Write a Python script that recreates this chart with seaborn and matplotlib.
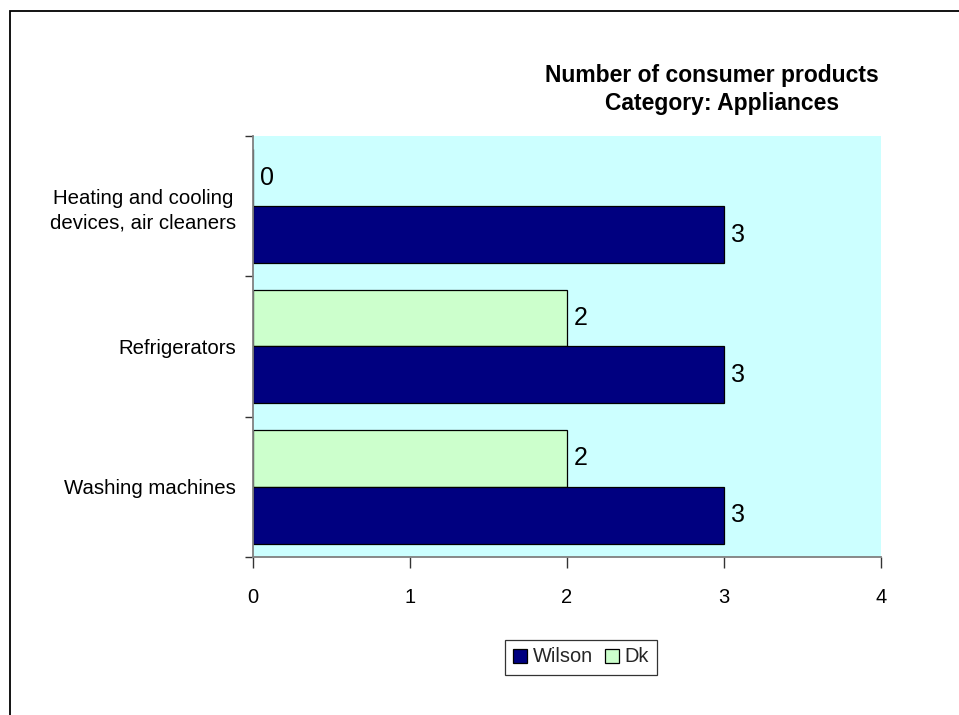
import matplotlib
matplotlib.use("Agg")
import matplotlib.pyplot as plt
from matplotlib.patches import Patch, Rectangle
import seaborn as sns
import pandas as pd

# Chart data
categories = ["Heating and cooling\ndevices, air cleaners", "Refrigerators", "Washing machines"]
wilson = [3, 3, 3]
dk = [0, 2, 2]
series_names = ["Wilson", "Dk"]
x_ticks = [0, 1, 2, 3, 4]
title_lines = ["Number of consumer products", "Category: Appliances"]

NAVY = "#000080"
MINT = "#CCFFCC"
PLOT_BG = "#CCFFFF"

df = pd.DataFrame({
    "category": categories * 2,
    "series": ["Dk"] * len(categories) + ["Wilson"] * len(categories),
    "value": dk + wilson,
})

sns.set_theme(style="white")
plt.rcParams["font.family"] = ["Liberation Sans", "DejaVu Sans"]

fig = plt.figure(figsize=(9.59, 7.15), dpi=100)
fig.patch.set_facecolor("white")

# Outer chart frame (top and left edges visible)
fig.add_artist(Rectangle((10 / 959, -0.1), 1.2, 1.1 - 11 / 715,
                         transform=fig.transFigure, fill=False,
                         edgecolor="black", linewidth=1.3))

ax = fig.add_axes([253 / 959, 1 - 557 / 715, (881 - 253) / 959, (557 - 136) / 715])
ax.set_facecolor(PLOT_BG)

sns.barplot(data=df, y="category", x="value", hue="series", order=categories,
            hue_order=["Dk", "Wilson"], palette={"Dk": MINT, "Wilson": NAVY},
            orient="h", width=0.81, edgecolor="black", linewidth=0.9,
            saturation=1, legend=False, ax=ax)

for cont in ax.containers:
    ax.bar_label(cont, labels=[f"{v:g}" for v in cont.datavalues],
                 padding=5, fontsize=18, color="black")

ax.set_xlim(0, 4)
ax.set_ylim(2.5, -0.5)
ax.set_xticks(x_ticks)
ax.set_xticklabels([str(t) for t in x_ticks], fontsize=14.5, color="black")
ax.set_yticks([-0.5, 0.5, 1.5, 2.5], minor=False)
ax.set_yticklabels([])
ax.set_yticks([0, 1, 2], minor=True)
ax.set_yticklabels(categories, minor=True, fontsize=14.7, color="black",
                   ha="right", multialignment="center")
for lbl in ax.get_yticklabels(minor=True):
    lbl.set_linespacing(1.35)
ax.tick_params(axis="y", which="minor", length=0, pad=12)
ax.tick_params(axis="y", which="major", length=6, width=1, color="#333333", direction="out", left=True)
ax.tick_params(axis="x", length=8, width=1, color="#333333", direction="out", bottom=True, pad=14)
ax.set_xlabel("")
ax.set_ylabel("")

for side in ["top", "right"]:
    ax.spines[side].set_visible(False)
for side in ["left", "bottom"]:
    ax.spines[side].set_visible(True)
    ax.spines[side].set_color("#808080")
    ax.spines[side].set_linewidth(1.3)

# Two-line bold title above the plot area
fig.text(712 / 959, 1 - 82 / 715, title_lines[0], ha="center", va="baseline",
         fontsize=16.5, fontweight="bold", color="black")
fig.text(722 / 959, 1 - 110 / 715, title_lines[1], ha="center", va="baseline",
         fontsize=16.5, fontweight="bold", color="black")

handles = [Patch(facecolor=NAVY, edgecolor="black", linewidth=0.9),
           Patch(facecolor=MINT, edgecolor="black", linewidth=0.9)]
leg = fig.legend(handles, series_names, loc="center", bbox_to_anchor=(581 / 959, 1 - 657 / 715),
                 ncol=2, fontsize=14.4, frameon=True, fancybox=False, shadow=False,
                 handlelength=0.7, handleheight=0.7, handletextpad=0.3,
                 columnspacing=0.6, borderpad=0.4)
leg.get_frame().set_edgecolor("black")
leg.get_frame().set_linewidth(0.9)

fig.savefig("out.png", dpi=100)
